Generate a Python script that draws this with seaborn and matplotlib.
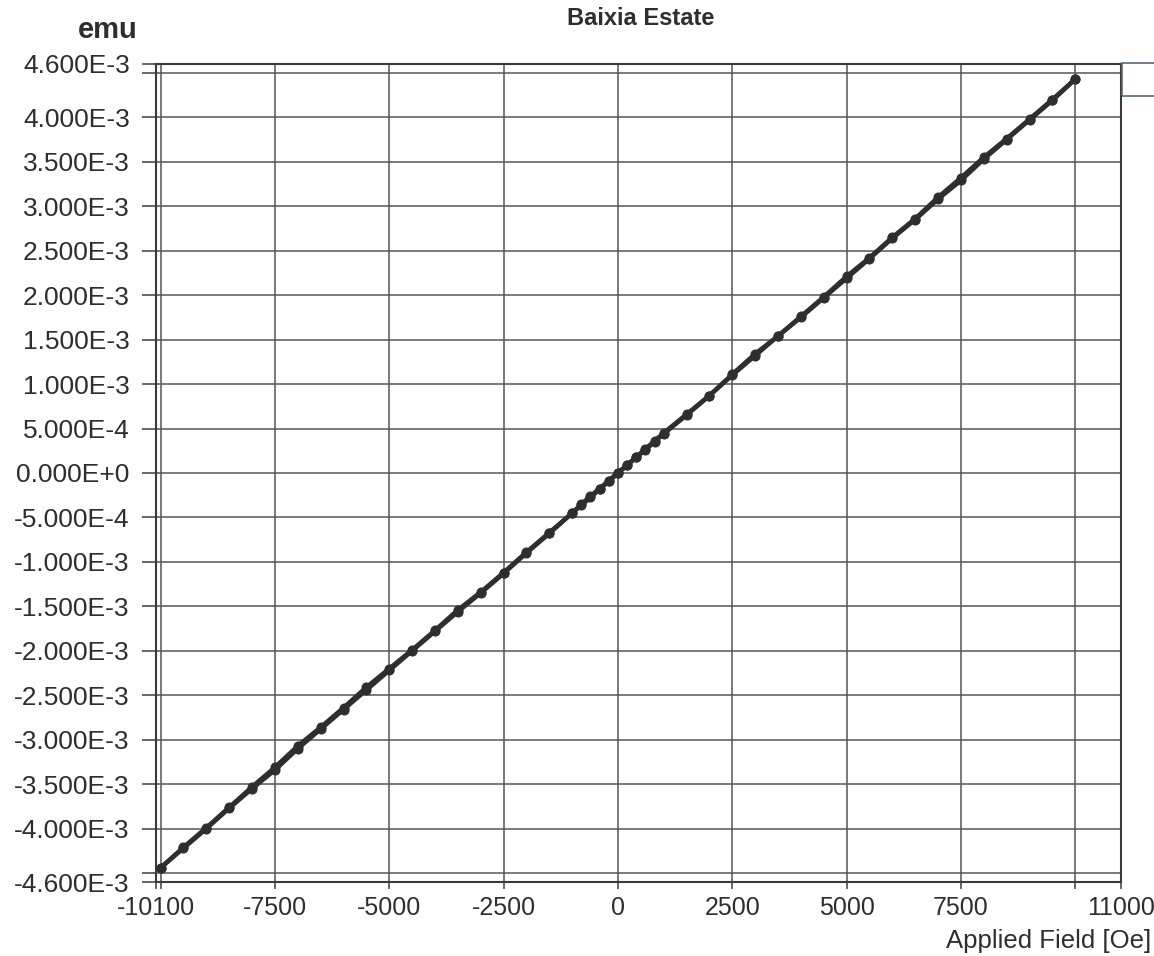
import matplotlib
matplotlib.use("Agg")
import matplotlib.pyplot as plt
from matplotlib.patches import Rectangle
import pandas as pd
import seaborn as sns

# Descending branch of the loop (+10 kOe -> -10 kOe)
field_down = [10000, 9500, 9000, 8500, 8000, 7500, 7000, 6500, 6000, 5500,
              5000, 4500, 4000, 3500, 3000, 2500, 2000, 1500, 1000, 800,
              600, 400, 200, 0, -200, -400, -600, -800, -1000, -1500,
              -2000, -2500, -3000, -3500, -4000, -4500, -5000, -5500, -6000,
              -6500, -7000, -7500, -8000, -8500, -9000, -9500, -10000]
moment_down = [4.43e-3, 4.20e-3, 3.98e-3, 3.76e-3, 3.55e-3, 3.32e-3, 3.10e-3,
               2.86e-3, 2.65e-3, 2.42e-3, 2.21e-3, 1.98e-3, 1.76e-3, 1.54e-3,
               1.34e-3, 1.11e-3, 0.87e-3, 0.66e-3, 0.45e-3, 0.36e-3, 0.27e-3,
               0.18e-3, 0.09e-3, 0.005e-3, -0.085e-3, -0.175e-3, -0.26e-3,
               -0.35e-3, -0.45e-3, -0.67e-3, -0.89e-3, -1.12e-3, -1.34e-3,
               -1.54e-3, -1.77e-3, -1.99e-3, -2.20e-3, -2.41e-3, -2.64e-3,
               -2.86e-3, -3.07e-3, -3.31e-3, -3.53e-3, -3.76e-3, -3.99e-3,
               -4.21e-3, -4.44e-3]

# Ascending branch of the loop (-10 kOe -> +10 kOe)
field_up = [-10000, -9500, -9000, -8500, -8000, -7500, -7000, -6500, -6000,
            -5500, -5000, -4500, -4000, -3500, -3000, -2500, -2000, -1500,
            -1000, -800, -600, -400, -200, 0, 200, 400, 600, 800, 1000, 1500,
            2000, 2500, 3000, 3500, 4000, 4500, 5000, 5500, 6000, 6500, 7000,
            7500, 8000, 8500, 9000, 9500, 10000]
moment_up = [-4.44e-3, -4.22e-3, -4.00e-3, -3.77e-3, -3.55e-3, -3.34e-3,
             -3.10e-3, -2.88e-3, -2.66e-3, -2.44e-3, -2.22e-3, -2.00e-3,
             -1.78e-3, -1.56e-3, -1.35e-3, -1.13e-3, -0.90e-3, -0.68e-3,
             -0.45e-3, -0.365e-3, -0.275e-3, -0.185e-3, -0.095e-3, -0.005e-3,
             0.085e-3, 0.175e-3, 0.26e-3, 0.35e-3, 0.44e-3, 0.65e-3, 0.87e-3,
             1.10e-3, 1.32e-3, 1.54e-3, 1.75e-3, 1.97e-3, 2.19e-3, 2.41e-3,
             2.64e-3, 2.85e-3, 3.08e-3, 3.29e-3, 3.53e-3, 3.75e-3, 3.97e-3,
             4.19e-3, 4.43e-3]

# Axis ticks and labels
x_ticks = [-10100, -10000, -7500, -5000, -2500, 0, 2500, 5000, 7500, 10000, 11000]
x_tick_labels = ["-10100", "", "-7500", "-5000", "-2500", "0", "2500", "5000",
                 "7500", "", "11000"]
y_ticks = [-4.6e-3, -4.5e-3, -4.0e-3, -3.5e-3, -3.0e-3, -2.5e-3, -2.0e-3,
           -1.5e-3, -1.0e-3, -5.0e-4, 0.0, 5.0e-4, 1.0e-3, 1.5e-3, 2.0e-3,
           2.5e-3, 3.0e-3, 3.5e-3, 4.0e-3, 4.5e-3, 4.6e-3]
y_tick_labels = ["-4.600E-3", "", "-4.000E-3", "-3.500E-3", "-3.000E-3",
                 "-2.500E-3", "-2.000E-3", "-1.500E-3", "-1.000E-3",
                 "-5.000E-4", "0.000E+0", "5.000E-4", "1.000E-3", "1.500E-3",
                 "2.000E-3", "2.500E-3", "3.000E-3", "3.500E-3", "4.000E-3",
                 "", "4.600E-3"]

sns.set_style("white")
plt.rcParams["font.family"] = ["Liberation Sans", "DejaVu Sans"]

df = pd.concat([
    pd.DataFrame({"field": field_down, "moment": moment_down, "branch": "down"}),
    pd.DataFrame({"field": field_up, "moment": moment_up, "branch": "up"}),
], ignore_index=True)

ink = "#2e2e2e"
fig = plt.figure(figsize=(11.54, 9.56), dpi=100)
ax = fig.add_axes([0.1352, 0.0774, 0.8362, 0.8557])

sns.lineplot(data=df, x="field", y="moment", units="branch", estimator=None,
             sort=False, color=ink, linewidth=3.2, marker="o", markersize=6.5,
             markeredgecolor=ink, markerfacecolor=ink, ax=ax, zorder=3)

ax.set_xlim(-10100, 11000)
ax.set_ylim(-4.6e-3, 4.6e-3)
ax.set_xticks(x_ticks)
ax.set_xticklabels(x_tick_labels)
ax.set_yticks(y_ticks)
ax.set_yticklabels(y_tick_labels)
ax.set_xlabel("")
ax.set_ylabel("")

ax.grid(True, color="#555555", linewidth=1.1)
ax.set_axisbelow(True)
for s in ax.spines.values():
    s.set_visible(True)
    s.set_color("#3a3a3a")
    s.set_linewidth(1.5)

ax.tick_params(axis="y", direction="out", length=10, width=1.2, color="#4d4d4d",
               pad=9, labelsize=19, labelcolor=ink, left=True)
ax.tick_params(axis="x", direction="out", length=5, width=1.2, color="#4d4d4d",
               pad=5, labelsize=18, labelcolor=ink, bottom=True)

fig.text(0.555, 0.981, "Baixia Estate", ha="center", va="center",
         fontsize=17, fontweight="bold", color=ink)
fig.text(0.093, 0.969, "emu", ha="center", va="center",
         fontsize=21, fontweight="bold", color=ink)
fig.text(0.998, 0.016, "Applied Field [Oe]", ha="right", va="center",
         fontsize=18.5, color=ink)

# Empty legend frame at the upper right
fig.add_artist(Rectangle((0.9723, 0.8996), 0.05, 0.0345, transform=fig.transFigure,
                         fill=False, edgecolor="#5a6a78", linewidth=1.2))

fig.savefig("out.png", dpi=100)
